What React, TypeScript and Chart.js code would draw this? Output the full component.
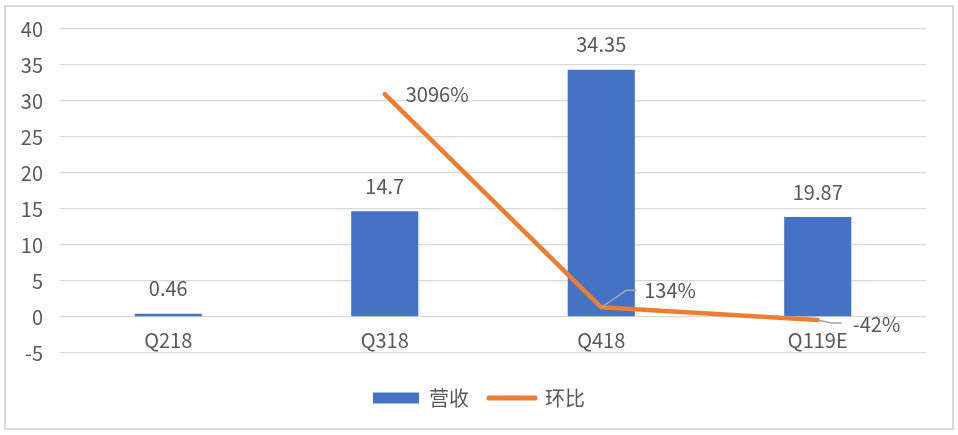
import React, { useEffect, useRef } from "react";
import { Chart, registerables } from "chart.js";

Chart.register(...registerables);

const categories = ["Q218", "Q318", "Q418", "Q119E"];
const revenue = [0.46, 14.7, 34.35, 13.9];
const revenueLabels = ["0.46", "14.7", "34.35", "19.87"];
const qoq: (number | null)[] = [null, 30.96, 1.34, -0.42];
const qoqLabels = ["", "3096%", "134%", "-42%"];
const seriesNames = ["营收", "环比"];

const FONT = '"Noto Sans CJK SC", "Liberation Sans", sans-serif';
const TEXT = "#595959";
const BLUE = "#4472C4";
const ORANGE = "#ED7D31";
const FS = 20;

const labelPlugin = {
  id: "valueLabels",
  afterDatasetsDraw(chart: any) {
    const ctx = chart.ctx;
    ctx.save();
    ctx.font = `${FS}px ${FONT}`;
    ctx.fillStyle = TEXT;
    ctx.textBaseline = "middle";
    ctx.textAlign = "center";
    const barMeta = chart.getDatasetMeta(0);
    barMeta.data.forEach((el: any, i: number) => {
      ctx.fillText(revenueLabels[i], el.x, el.y - 25);
    });
    const lineMeta = chart.getDatasetMeta(1);
    const offs: any[] = [
      null,
      { tx: 21, ty: 0, leader: null },
      { tx: 43, ty: -17, leader: [[25, -17], [35, -17]] },
      { tx: 35, ty: 4, leader: [[14, 3], [24, 3]] },
    ];
    lineMeta.data.forEach((el: any, i: number) => {
      const o = offs[i];
      if (!o || qoq[i] === null) return;
      if (o.leader) {
        ctx.beginPath();
        ctx.strokeStyle = "#A6A6A6";
        ctx.lineWidth = 1.5;
        ctx.moveTo(el.x, el.y);
        o.leader.forEach((p: number[]) => ctx.lineTo(el.x + p[0], el.y + p[1]));
        ctx.stroke();
      }
      ctx.textAlign = "left";
      ctx.fillText(qoqLabels[i], el.x + o.tx, el.y + o.ty);
    });
    ctx.restore();
  },
};

export default function App() {
  const ref = useRef<HTMLCanvasElement>(null);
  useEffect(() => {
    if (!ref.current) return;
    const chart = new Chart(ref.current, {
      type: "bar",
      data: {
        labels: categories,
        datasets: [
          {
            type: "bar",
            label: seriesNames[0],
            data: revenue,
            backgroundColor: BLUE,
            borderWidth: 0,
            categoryPercentage: 1,
            barPercentage: 0.31,
            order: 2,
          },
          {
            type: "line",
            label: seriesNames[1],
            data: qoq,
            borderColor: ORANGE,
            backgroundColor: ORANGE,
            borderWidth: 4.5,
            pointRadius: 0,
            borderJoinStyle: "round",
            borderCapStyle: "round",
            tension: 0,
            order: 1,
          } as any,
        ],
      },
      options: {
        responsive: false,
        animation: false,
        devicePixelRatio: 1,
        layout: { padding: { top: 28, right: 0, bottom: 17, left: 0 } },
        plugins: {
          tooltip: { enabled: false },
          legend: {
            position: "bottom",
            labels: {
              usePointStyle: true,
              pointStyleWidth: 46,
              boxHeight: 11,
              padding: 20,
              color: TEXT,
              font: { family: FONT, size: FS },
              generateLabels: () => [
                {
                  text: seriesNames[0],
                  pointStyle: "rect",
                  fillStyle: BLUE,
                  strokeStyle: BLUE,
                  lineWidth: 0,
                  fontColor: TEXT,
                  datasetIndex: 0,
                  hidden: false,
                },
                {
                  text: seriesNames[1],
                  pointStyle: "line",
                  fillStyle: ORANGE,
                  strokeStyle: ORANGE,
                  lineWidth: 5,
                  lineCap: "round",
                  fontColor: TEXT,
                  datasetIndex: 1,
                  hidden: false,
                },
              ] as any,
            },
          },
        },
        scales: {
          x: {
            position: { y: 0 } as any,
            grid: { display: false, drawTicks: false },
            border: { display: false },
            ticks: { color: TEXT, font: { family: FONT, size: FS }, padding: 11 },
          },
          xb: {
            type: "category",
            labels: categories,
            position: "bottom",
            grid: { display: false, drawTicks: false },
            border: { display: false },
            ticks: { display: false },
            afterFit: (s: any) => {
              s.height = 15;
            },
          } as any,
          y: {
            min: -5,
            max: 40,
            ticks: { stepSize: 5, color: TEXT, font: { family: FONT, size: FS }, padding: 17 },
            grid: { color: "#D9D9D9", lineWidth: 1.3, drawTicks: false },
            border: { display: false },
            afterFit: (s: any) => {
              s.width = 60;
            },
          },
          yr: {
            position: "right",
            min: -5,
            max: 40,
            grid: { display: false, drawTicks: false },
            border: { display: false },
            ticks: { display: false },
            afterFit: (s: any) => {
              s.width = 32;
            },
          } as any,
        },
      },
      plugins: [labelPlugin],
    });
    return () => chart.destroy();
  }, []);

  return (
    <div style={{ position: "fixed", left: 0, top: 0, width: 958, height: 435, background: "#fff" }}>
      <div
        style={{
          position: "absolute",
          left: 4,
          top: 5,
          width: 946,
          height: 421,
          border: "2px solid #D9D9D9",
        }}
      />
      <canvas ref={ref} width={958} height={435} style={{ position: "absolute", left: 0, top: 0 }} />
    </div>
  );
}
